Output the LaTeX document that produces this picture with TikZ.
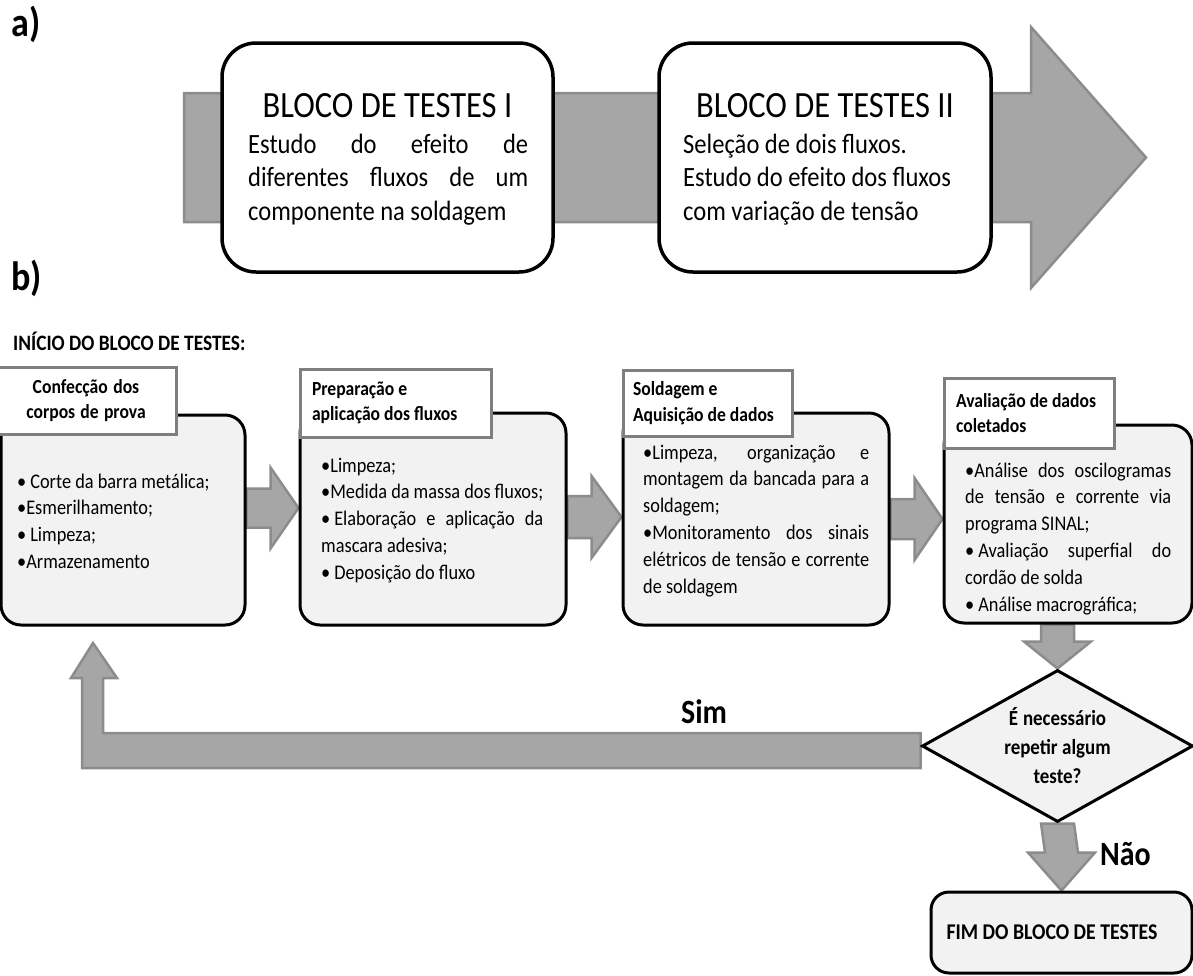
\documentclass[tikz,border=0pt]{standalone}
\usepackage{fontspec}
\setmainfont{Carlito}[FakeStretch=0.88]
\usetikzlibrary{calc,shapes.geometric,backgrounds}

\definecolor{bandgray}{HTML}{A6A6A6}
\definecolor{bandedge}{HTML}{8C8C8C}
\definecolor{panelfill}{HTML}{F2F2F2}
\definecolor{tabedge}{HTML}{7F7F7F}

\newcommand\fs[2]{\fontsize{#1}{#2}\selectfont}
% a line stretched to the full text width
\newcommand\jline[1]{\makebox[\linewidth][s]{\spaceskip=0pt\xspaceskip=0pt #1}}
% bullet followed by a fixed gap
\newcommand\bl{•\kern4pt}

% block arrow pointing right: tail point, tip point, body half-height, head half-height, head length
\newcommand\rblock[5]{%
  \draw[blockarrow] ($#1+(0,-#3)$) -- ($#2+(-#5,-#3)$) -- ($#2+(-#5,-#4)$) -- #2
    -- ($#2+(-#5,#4)$) -- ($#2+(-#5,#3)$) -- ($#1+(0,#3)$) -- cycle;}
% block arrow pointing down: tail point, tip point, body half-width, head half-width, head length
\newcommand\dblock[5]{%
  \draw[blockarrow] ($#1+(-#3,0)$) -- ($#2+(-#3,-#5)$) -- ($#2+(-#4,-#5)$) -- #2
    -- ($#2+(#4,-#5)$) -- ($#2+(#3,-#5)$) -- ($#1+(#3,0)$) -- cycle;}

\begin{document}
\begin{tikzpicture}[x=1pt,y=-1pt,
  execute at begin node={\spaceskip=0pt\xspaceskip=0pt\relax},
  blockarrow/.style={fill=bandgray, draw=bandedge, line width=2.5pt, line join=miter},
  bigbox/.style={draw=black, line width=3.5pt, fill=white, rounded corners=34pt, inner sep=0},
  stagebox/.style={draw=black, line width=3pt, fill=panelfill, rounded corners=20pt, inner sep=0},
  tabbox/.style={draw=tabedge, line width=3pt, fill=white, inner sep=0},
  txt/.style={inner sep=0, anchor=base west},
  bodytext/.style={txt, align=left, font=\fs{27.9}{33.5}},
  titletext/.style={anchor=base, inner sep=0, font=\fs{37}{44}},
  bullets/.style={txt, align=left, font=\fs{20.8}{26.8}},
  tabtext/.style={font=\bfseries\fs{20}{25.5}}]
\useasboundingbox (0,0) rectangle (1193,975);

% ---------- a) ----------
\node[txt, font=\bfseries\fs{41}{48}] (la) at (11,36) {a)};

\node[bigbox, minimum width=331pt, minimum height=229pt] (blk1) at (387.5,157.5) {};
\node[bigbox, minimum width=332pt, minimum height=229pt] (blk2) at (825,157.5) {};

\node[titletext] (t1) at (387.5,117) {BLOCO DE TESTES I};
\node[bodytext, text width=280pt] (d1) at (248,153)
  {\jline{Estudo do efeito de}\\\jline{diferentes fluxos de um}\\componente na soldagem};

\node[titletext] (t2) at (825,117) {BLOCO DE TESTES II};
\node[bodytext, text width=295pt] (d2) at (683,153)
  {Seleção de dois fluxos.\\Estudo do efeito dos fluxos\\com variação de tensão};

\begin{scope}[on background layer]
  \draw[blockarrow] (184,93) -- (1031,93) -- (1031,27) -- (1146,157.5)
    -- (1031,288) -- (1031,222) -- (184,222) -- cycle;
\end{scope}

% ---------- b) ----------
\node[txt, font=\bfseries\fs{41}{48}] (lb) at (11,290) {b)};
\node[txt, font=\bfseries\fs{22}{26}] (ini) at (13,350) {INÍCIO DO BLOCO DE TESTES:};

\node[stagebox, minimum width=244pt, minimum height=210pt] (s1) at (123,520) {};
\node[stagebox, minimum width=266pt, minimum height=212pt] (s2) at (433,519) {};
\node[stagebox, minimum width=266pt, minimum height=212pt] (s3) at (756,519) {};
\node[stagebox, minimum width=248pt, minimum height=198pt] (s4) at (1068,524) {};

\node[tabbox, tabtext, minimum width=180pt, minimum height=67pt, text width=170pt, align=center]
  (l1) at (86,400.5) {Confecção dos\\corpos de prova};
\node[tabbox, tabtext, minimum width=191pt, minimum height=68pt, text width=167pt, align=left]
  (l2) at (395.5,403) {Preparação e\\aplicação dos fluxos};
\node[tabbox, tabtext, minimum width=169pt, minimum height=66pt, text width=149pt, align=left]
  (l3) at (707.5,403) {Soldagem e\\Aquisição de dados};
\node[tabbox, tabtext, minimum width=170pt, minimum height=70pt, text width=146pt, align=left]
  (l4) at (1029,413) {Avaliação de dados\\coletados};

\node[bullets, text width=220pt] (c1) at (17,488)
  {\bl Corte da barra metálica;\\•Esmerilhamento;\\\bl Limpeza;\\•Armazenamento};
\node[bullets, text width=222pt] (c2) at (321,472)
  {•Limpeza;\\•Medida da massa dos fluxos;\\\jline{\bl Elaboração e aplicação da}\\mascara adesiva;\\\bl Deposição do fluxo};
\node[bullets, text width=226pt] (c3) at (643,459)
  {\jline{•Limpeza, organização e}\\\jline{montagem da bancada para a}\\soldagem;\\\jline{•Monitoramento dos sinais}\\\jline{elétricos de tensão e corrente}\\de soldagem};
\node[bullets, text width=206pt] (c4) at (965,477)
  {\jline{•Análise dos oscilogramas}\\\jline{de tensão e corrente via}\\programa SINAL;\\\jline{\bl Avaliação superfial do}\\cordão de solda\\\bl Análise macrográfica;};

\node[shape=diamond, draw=black, line width=3pt, fill=panelfill, aspect=1.78,
  minimum width=271pt, minimum height=152pt, inner sep=0, text width=120pt, align=center,
  font=\bfseries\fs{21.5}{29}] (dec) at (1057.5,746) {É necessário\\repetir algum\\teste?};

\node[stagebox, rounded corners=18pt, minimum width=261pt, minimum height=81pt,
  text width=230pt, inner xsep=15.5pt, align=left, font=\bfseries\fs{22.5}{27}]
  (fim) at (1061.5,932.5) {FIM DO BLOCO DE TESTES};

\node[txt, font=\bfseries\fs{34}{40}] (sim) at (681,723) {Sim};
\node[txt, font=\bfseries\fs{34}{40}] (nao) at (1100,865) {Não};

\coordinate (fbtip) at (93,643);

\begin{scope}[on background layer]
  \rblock{(s1.east |- 0,508)}{(s2.west |- 0,508)}{19.5}{40.5}{28}
  \rblock{(s2.east |- 0,517)}{(s3.west |- 0,517)}{21}{41}{30}
  \rblock{(s3.east |- 0,519)}{(s4.west |- 0,519)}{20}{41}{28}
  \dblock{(s4.south -| dec.north)}{(dec.north)}{16.5}{33.5}{27}
  \dblock{(dec.south)}{(fim.north)}{16.5}{33.5}{38}
  % return loop back to the first stage
  \draw[blockarrow] (dec.west |- 0,733) -- (103,733) -- (103,678) -- (117,678) -- (fbtip)
    -- (71,678) -- (82,678) -- (82,768) -- (dec.west |- 0,768) -- cycle;
\end{scope}
\end{tikzpicture}
\end{document}
